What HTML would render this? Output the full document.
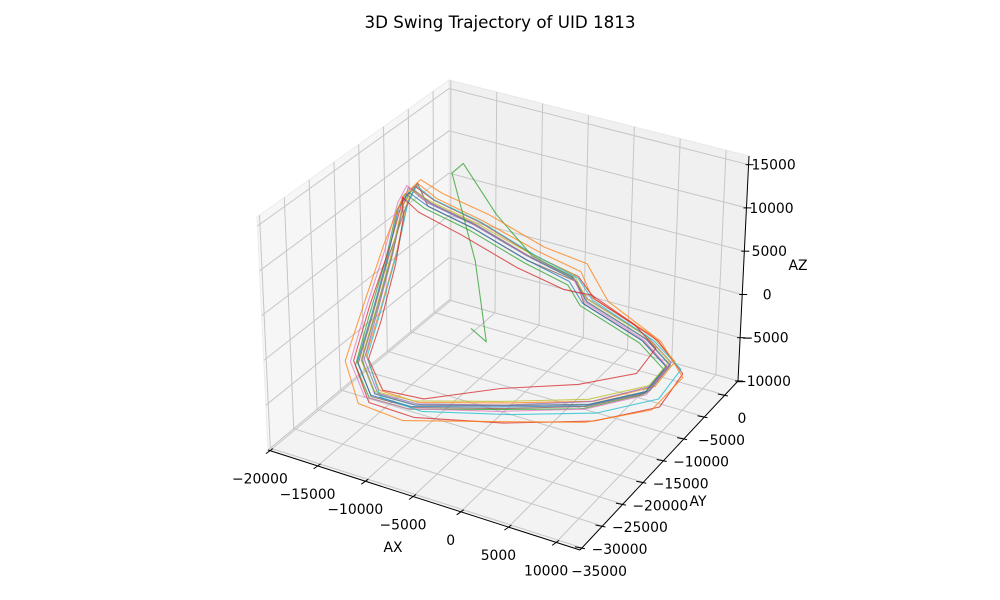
<!DOCTYPE html>
<html><head><meta charset="utf-8"><style>
html,body{margin:0;padding:0;background:#fff;}
svg{display:block;font-family:"DejaVu Sans","Liberation Sans",sans-serif;}
</style></head><body>
<svg id="chart" width="1000" height="600" viewBox="0 0 1000 600">
<text x="500" y="28" text-anchor="middle" font-size="16.7" fill="#000">3D Swing Trajectory of UID 1813</text>
<g id="panes"></g>
<g id="grid"></g>
<g id="series"></g>
<g id="axes"></g>
<text x="393" y="552" text-anchor="middle" font-size="13.9">AX</text>
<text x="698" y="506" text-anchor="middle" font-size="13.9">AY</text>
<text x="798" y="270" text-anchor="middle" font-size="13.9">AZ</text>
</svg>
<script>
const xTicks = [-20000,-15000,-10000,-5000,0,5000,10000];
const yTicks = [-35000,-30000,-25000,-20000,-15000,-10000,-5000,0];
const zTicks = [-10000,-5000,0,5000,10000,15000];
const xLim = [-20200,12500];
const yLim = [-35500,3200];
const zLim = [-10000,16000];
const UNIT = 1000;
const colors = ["#1f77b4","#ff7f0e","#2ca02c","#d62728","#9467bd","#8c564b","#e377c2","#7f7f7f","#bcbd22","#17becf","#1f77b4","#2ca02c","#ff7f0e","#d62728"];
const s1 = [[-3.3,-2.7,0],[-5.7,-7.6,4],[-9.9,-10.9,7.9],[-13.1,-14.2,10.9],[-14.6,-15.1,12.5],[-15.6,-15.1,10.4],[-15.7,-17.3,5.8],[-16.2,-19.9,0.2],[-16.6,-22.4,-4.4],[-15,-22.9,-7.5],[-11.2,-21.9,-8],[-4.3,-16.6,-8.3],[2.9,-12,-8.1],[7.4,-7.4,-7.4],[8.1,-4.1,-5.9],[5.6,-4.6,-3.4],[-0.8,-5,-0.8],[-3.3,-2.7,0]];
const s2 = [[-2.8,-2.2,0.8],[-5.2,-7,4.6],[-9.4,-10.5,8.4],[-12.6,-13.8,11.4],[-14.2,-14.6,13],[-15.2,-14.9,10.9],[-15.3,-17,6.2],[-15.8,-19.5,0.8],[-16.3,-22,-3.9],[-14.7,-22.6,-7.1],[-10.9,-21.7,-7.7],[-3.9,-16.3,-8],[3.3,-11.6,-7.8],[7.8,-7,-7],[8.5,-3.8,-5.5],[6,-4.2,-3],[-0.4,-4.6,-0.4],[-2.8,-2.2,0.8]];
const s3 = [[-3.8,-3.1,-0.6],[-6.1,-8.1,3.5],[-10.3,-11.4,7.4],[-13.6,-14.6,10.4],[-15.1,-15.5,12],[-16,-15.6,9.9],[-16.1,-17.8,5.3],[-16.7,-20.4,-0.3],[-17,-22.9,-4.9],[-15.4,-23.3,-7.9],[-11.6,-22.3,-8.4],[-4.8,-17,-8.7],[2.4,-12.5,-8.5],[6.9,-7.8,-7.8],[7.6,-4.5,-6.3],[5.1,-5,-3.8],[-1.3,-5.4,-1.2],[-3.8,-3.1,-0.6]];
const s4 = [[-3,-2.4,0.3],[-5.5,-7.3,4.2],[-9.6,-10.6,8.2],[-12.9,-13.9,11.2],[-14.4,-14.9,12.8],[-15.8,-14.8,10.7],[-16.2,-16.9,6],[-17,-19.6,0.5],[-17.5,-22.3,-4.8],[-15.5,-23.2,-8.5],[-11,-22.6,-9],[-3.7,-17.6,-9.6],[3.8,-12.6,-9.4],[8.7,-7.7,-8.7],[9.5,-4,-6.5],[6.6,-3.9,-3.6],[-0.2,-4.4,-0.6],[-3,-2.4,0.3]];
const s5 = [[-3.5,-2.9,0.4],[-6,-7.9,4.3],[-10.1,-11.2,8.1],[-13.4,-14.4,11],[-14.9,-15.3,12.7],[-15.4,-15.4,10.6],[-15.5,-17.5,6],[-15.9,-20.1,0.5],[-16.2,-22.6,-4.1],[-14.6,-23.1,-7.2],[-10.8,-22.2,-7.6],[-4,-16.9,-8],[3.2,-12.2,-7.6],[7.6,-7.5,-6.8],[8.3,-4.3,-5.4],[5.8,-4.8,-2.9],[-0.6,-5.2,-0.3],[-3.5,-2.9,0.4]];
const s6 = [[-3.1,-2.5,-0.3],[-5.9,-7.8,3.7],[-10.2,-11.1,7.6],[-13.3,-14.4,10.6],[-14.2,-14.8,13.2],[-15.3,-15.3,10],[-15.9,-17.6,5.5],[-16.4,-20.2,-0.1],[-16.8,-22.7,-4.7],[-15.3,-23.1,-7.8],[-11.4,-22.2,-8.2],[-4.5,-16.8,-8.6],[2.7,-12.2,-8.3],[7.2,-7.6,-7.6],[7.9,-4.3,-6.1],[5.4,-4.8,-3.6],[-1,-5.2,-1],[-3.1,-2.5,-0.3]];
const s7 = [[-3.6,-2.5,0.2],[-6.2,-7.4,4.1],[-10.5,-10.7,8],[-13.8,-13.9,10.9],[-15.3,-14.8,12.6],[-16.4,-14.6,10.2],[-16.8,-16.8,5.4],[-17.6,-19.4,-0.4],[-18,-22,-5.2],[-16.2,-22.7,-8.3],[-12,-22,-8.6],[-4.8,-16.8,-9],[2.5,-12.1,-8.7],[7.1,-7.5,-7.9],[7.9,-4.2,-6.1],[5.4,-4.7,-3.5],[-1,-5,-0.9],[-3.6,-2.5,0.2]];
const s8 = [[-3.2,-2.8,0.1],[-5.6,-7.7,4.1],[-9.8,-11,8],[-13,-14.3,11],[-14.5,-15.2,12.6],[-15.5,-15.2,10.5],[-15.6,-17.4,5.9],[-16.1,-20,0.3],[-16.5,-22.5,-4.3],[-14.9,-23,-7.4],[-11.1,-22,-7.9],[-4.2,-16.7,-8.2],[3,-12.1,-8],[7.5,-7.5,-7.3],[8.2,-4.2,-5.8],[5.7,-4.7,-3.3],[-0.7,-5.1,-0.7],[-3.2,-2.8,0.1]];
const s9 = [[-3.4,-2.6,0.5],[-5.8,-7.5,4.4],[-9.9,-10.8,8.1],[-13.2,-14.1,11.1],[-14.7,-15,12.3],[-15.7,-15,10.2],[-15.8,-17.2,5.7],[-16.3,-19.8,0.1],[-16.7,-22.3,-4.5],[-15.1,-22.8,-7.3],[-11.3,-21.8,-7.6],[-4.4,-16.5,-7.9],[2.8,-11.9,-7.6],[7.3,-7.3,-6.9],[8,-4,-5.5],[5.5,-4.5,-3.1],[-0.9,-4.9,-0.5],[-3.4,-2.6,0.5]];
const s10 = [[-2.9,-2.6,0.2],[-5.3,-7.4,4.3],[-9.5,-10.7,8.3],[-12.8,-14,11.3],[-14.3,-14.9,12.9],[-15.1,-15,10.8],[-15.2,-17.1,6.2],[-15.7,-19.7,0.6],[-16.1,-22.2,-4],[-14.5,-22.7,-7.8],[-10.6,-21.7,-8.6],[-3.7,-16.4,-9.2],[3.6,-11.7,-9],[8.3,-7.1,-8.2],[9.1,-3.6,-6.3],[6.2,-4.1,-3.6],[-0.3,-4.7,-0.6],[-2.9,-2.6,0.2]];
const s11 = [[-3.7,-3,-0.2],[-6,-7.9,3.8],[-10.2,-11.2,7.7],[-13.3,-14.5,10.7],[-14.8,-15.4,12.2],[-15.9,-15.4,10.1],[-16,-17.6,5.5],[-16.5,-20.2,-0.1],[-16.9,-22.7,-4.6],[-15.3,-23.2,-7.6],[-11.5,-22.2,-8.1],[-4.6,-16.9,-8.4],[2.6,-12.3,-8.2],[7.1,-7.7,-7.5],[7.8,-4.4,-6],[5.3,-4.9,-3.5],[-1.1,-5.3,-0.9],[-3.7,-3,-0.2]];
const s12 = [[-3.3,-2.7,0.2],[-5.6,-7.5,4.2],[-8.5,-9.5,9],[-11.4,-10.7,14.5],[-12.2,-11.5,13.5],[-9,-13,5],[-6.5,-15.7,-2.2],[-8,-16,-1]];
const s13 = [[-2.5,-1.5,1.5],[-4.8,-6.5,5],[-9,-10,9],[-12.2,-13.5,12],[-14,-14.5,13.5],[-16,-14.2,11],[-17,-16.5,6],[-17.8,-19.5,0],[-18.3,-22.5,-5],[-16.5,-23.5,-8.8],[-12,-23,-9.5],[-4.5,-18,-9.5],[3,-13,-9.6],[8.2,-8.5,-8.8],[9.6,-4.2,-6.8],[6.8,-3.6,-3.8],[1,-3.8,-0.8],[-2.5,-1.5,1.5]];
const s14 = [[-4,-3.5,-1],[-6.8,-8.5,3],[-11,-12,7],[-14,-15,10],[-15.2,-16,11.8],[-15,-16.2,9.6],[-15,-18,5],[-15.4,-20.5,-0.5],[-15.8,-22.5,-4],[-14.3,-22.6,-7],[-10.5,-21.4,-7.3],[-4.8,-16,-6.8],[1.5,-11.5,-6.5],[6,-7.5,-5.8],[6.8,-4.8,-4],[4.4,-4.8,-2],[-0.3,-4.8,0],[-4,-3.5,-1]];
const allSeries = [s1,s2,s3,s4,s5,s6,s7,s8,s9,s10,s11,s12,s13,s14];

const C = {
  p000:[268,450], p100:[580,550], p010:[449,300], p110:[738,381],
  p001:[257,217], p101:[583,300], p011:[449,80],  p111:[749,156]
};
function lerp(a,b,t){return [a[0]+(b[0]-a[0])*t, a[1]+(b[1]-a[1])*t];}
function proj(x,y,z){
  const u=(x-xLim[0])/(xLim[1]-xLim[0]);
  const v=(y-yLim[0])/(yLim[1]-yLim[0]);
  const w=(z-zLim[0])/(zLim[1]-zLim[0]);
  const b0=lerp(lerp(C.p000,C.p100,u),lerp(C.p010,C.p110,u),v);
  const b1=lerp(lerp(C.p001,C.p101,u),lerp(C.p011,C.p111,u),v);
  return lerp(b0,b1,w);
}
const NS="http://www.w3.org/2000/svg";
function mk(tag,attrs,parent){const e=document.createElementNS(NS,tag);for(const k in attrs)e.setAttribute(k,attrs[k]);parent.appendChild(e);return e;}
function pts(arr){return arr.map(p=>p[0].toFixed(1)+","+p[1].toFixed(1)).join(" ");}

const panes=document.getElementById('panes');
const X0=xLim[0],X1=xLim[1],Y0=yLim[0],Y1=yLim[1],Z0=zLim[0],Z1=zLim[1];
let pn=mk('polygon',{points:pts([proj(X0,Y0,Z0),proj(X0,Y1,Z0),proj(X0,Y1,Z1),proj(X0,Y0,Z1)]),fill:'#f6f6f6',stroke:'#ececec'},panes);


pn=mk('polygon',{points:pts([proj(X0,Y1,Z0),proj(X1,Y1,Z0),proj(X1,Y1,Z1),proj(X0,Y1,Z1)]),fill:'#f0f0f0',stroke:'#e8e8e8'},panes);


pn=mk('polygon',{points:pts([proj(X0,Y0,Z0),proj(X1,Y0,Z0),proj(X1,Y1,Z0),proj(X0,Y1,Z0)]),fill:'#f3f3f3',stroke:'#ececec'},panes);



const grid=document.getElementById('grid');
const gs={stroke:'#c6c6c6','stroke-width':1,fill:'none'};
function gline(a,b,name){const l=mk('polyline',Object.assign({points:pts([a,b])},gs),grid);

}
xTicks.forEach(x=>{gline(proj(x,Y0,Z0),proj(x,Y1,Z0),'x-grid-floor');gline(proj(x,Y1,Z0),proj(x,Y1,Z1),'x-grid-back');});
yTicks.forEach(y=>{gline(proj(X0,y,Z0),proj(X1,y,Z0),'y-grid-floor');gline(proj(X0,y,Z0),proj(X0,y,Z1),'y-grid-left');});
zTicks.forEach(z=>{gline(proj(X0,Y0,z),proj(X0,Y1,z),'z-grid-left');gline(proj(X0,Y1,z),proj(X1,Y1,z),'z-grid-back');});

const ser=document.getElementById('series');
allSeries.forEach((s,i)=>{
  const p=s.map(q=>proj(q[0]*UNIT,q[1]*UNIT,q[2]*UNIT));
  const l=mk('polyline',{points:pts(p),fill:'none',stroke:colors[i%colors.length],'stroke-width':1.1,'stroke-opacity':0.75,'stroke-linejoin':'round'},ser);
  
  
});

const ax=document.getElementById('axes');
function aline(a,b,name){const l=mk('polyline',{points:pts([a,b]),stroke:'#000','stroke-width':1,fill:'none'},ax);

}
function label(x,y,txt,name){const t=mk('text',{x:x.toFixed(1),y:y.toFixed(1),'text-anchor':'middle','font-size':13.9,fill:'#000'},ax);t.textContent=txt;

}
function fmt(v){return v<0?'\u2212'+Math.abs(v):String(v);}
aline(proj(X0,Y0,Z0),proj(X1,Y0,Z0),'x-axis-line');
aline(proj(X1,Y0,Z0),proj(X1,Y1,Z0),'y-axis-line');
aline(proj(X1,Y1,Z0),proj(X1,Y1,Z1),'z-axis-line');
xTicks.forEach(x=>{const p=proj(x,Y0,Z0);aline([p[0]+3,p[1]-2],[p[0]-4,p[1]+3],'x-tick');label(p[0]-10,p[1]+33,fmt(x),'x-tick-label');});
yTicks.forEach(y=>{const p=proj(X1,y,Z0);aline([p[0]-7,p[1]-1],[p[0]+3,p[1]+1],'y-tick');label(p[0]+17,p[1]+28,fmt(y),'y-tick-label');});
zTicks.forEach(z=>{const p=proj(X1,Y1,z);aline([p[0]-3,p[1]],[p[0]+5,p[1]],'z-tick');label(p[0]+25,p[1]+5,fmt(z),'z-tick-label');});
</script>
</body></html>
